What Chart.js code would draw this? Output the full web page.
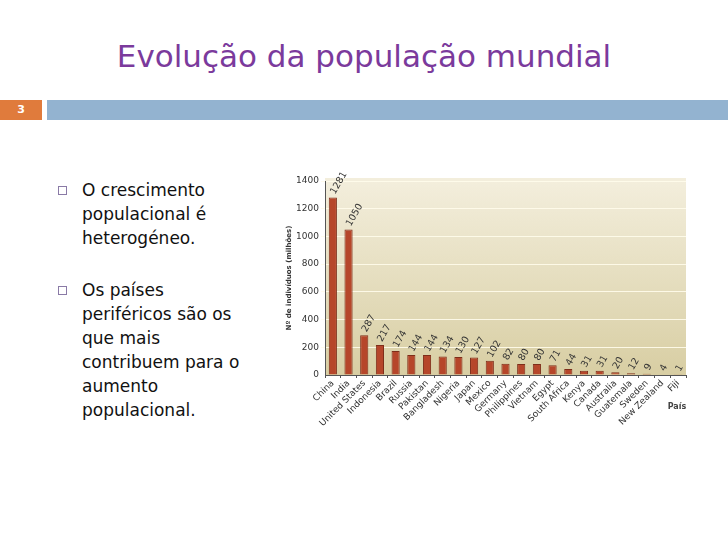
<!DOCTYPE html>
<html>
<head>
<meta charset="utf-8">
<script src="https://cdn.jsdelivr.net/npm/chart.js@4"></script>
<style>
  body { margin: 0; width: 728px; height: 546px; background: #fff; position: relative; overflow: hidden; font-family: "DejaVu Sans", sans-serif; }
  #title { position: absolute; left: 0; width: 728px; top: 38px; text-align: center; color: #7b3a9c; font-size: 31px; }
  #num { position: absolute; left: 0; top: 100px; width: 42px; height: 20px; background: #e07b3c; color: #fff; font-size: 11px; font-weight: bold; line-height: 20px; text-align: center; }
  #bar { position: absolute; left: 47px; top: 100px; right: 0; height: 20px; background: #93b3d0; }
  .bullet { position: absolute; left: 82px; font-size: 17px; line-height: 24px; color: #111; width: 200px; }
  .bullet::before { content: ""; position: absolute; left: -24px; top: 8px; width: 7px; height: 7px; border: 1px solid #8a7aa6; }
  #chartBox { position: absolute; left: 285px; top: 170px; width: 410px; height: 260px; }
</style>
</head>
<body>
<div id="title">Evolução da população mundial</div>
<div id="num">3</div>
<div id="bar"></div>
<div class="bullet" style="top:178px">O crescimento<br>populacional é<br>heterogéneo.</div>
<div class="bullet" style="top:278px">Os países<br>periféricos são os<br>que mais<br>contribuem para o<br>aumento<br>populacional.</div>
<div id="chartBox"><canvas id="popChart"></canvas></div>
<script>
// Data (millions of people)
const countries = ["China", "India", "United States", "Indonesia", "Brazil", "Russia", "Pakistan",
  "Bangladesh", "Nigeria", "Japan", "Mexico", "Germany", "Philippines", "Vietnam", "Egypt",
  "South Africa", "Kenya", "Canada", "Australia", "Guatemala", "Sweden", "New Zealand", "Fiji"]
const population = [1281, 1050, 287, 217, 174, 144, 144, 134, 130, 127, 102, 82, 80, 80, 71,
  44, 31, 31, 20, 12, 9, 4, 1]
const yTicks = [0, 200, 400, 600, 800, 1000, 1200, 1400]

// Beige gradient behind the plot
const plotBackground = {
  id: "plotBackground",
  beforeDraw(chart) {
    const { ctx, chartArea: a } = chart
    const g = ctx.createLinearGradient(0, a.top, 0, a.bottom)
    g.addColorStop(0, "#f3eedc")
    g.addColorStop(1, "#d8cea3")
    ctx.save()
    ctx.fillStyle = g
    ctx.fillRect(a.left, a.top - 3, a.right - a.left, a.bottom - a.top + 3)
    ctx.restore()
  },
}

// Rotated value labels above each bar, plus the "País" caption
const valueLabels = {
  id: "valueLabels",
  afterDatasetsDraw(chart) {
    const { ctx } = chart
    const meta = chart.getDatasetMeta(0)
    ctx.save()
    ctx.font = "9.5px 'DejaVu Sans'"
    ctx.fillStyle = "#333"
    ctx.textBaseline = "middle"
    meta.data.forEach((bar, i) => {
      ctx.save()
      ctx.translate(bar.x, bar.y - 4)
      ctx.rotate(-Math.PI / 3)
      ctx.textAlign = "left"
      ctx.fillText(String(population[i]), 0, 0)
      ctx.restore()
    })
    ctx.font = "bold 8px 'DejaVu Sans'"
    ctx.fillStyle = "#444"
    ctx.textAlign = "center"
    ctx.fillText("País", 392, 237)
    ctx.restore()
  },
}

const ctx = document.getElementById("popChart")
new Chart(ctx, {
  type: "bar",
  data: {
    labels: countries,
    datasets: [
      {
        data: population,
        backgroundColor: "#b6462a",
        borderColor: "#7e2e1a",
        borderWidth: 1,
        barPercentage: 0.52,
        categoryPercentage: 1,
      },
    ],
  },
  options: {
    responsive: true,
    maintainAspectRatio: false,
    animation: false,
    layout: { padding: { top: 11, right: 9, left: 0, bottom: 0 } },
    plugins: {
      legend: { display: false },
      tooltip: { enabled: false },
    },
    scales: {
      x: {
        grid: { display: true, drawOnChartArea: false, offset: true, tickLength: 3, color: "#555" },
        border: { color: "#555" },
        ticks: {
          color: "#333",
          font: { size: 9, family: "DejaVu Sans" },
          maxRotation: 45,
          minRotation: 45,
          autoSkip: false,
          padding: 0,
        },
        afterFit: (axis) => { axis.height = 55 },
      },
      y: {
        min: 0,
        max: 1400,
        title: {
          display: true,
          text: "Nº de indivíduos (milhões)",
          color: "#333",
          font: { size: 7, weight: "bold", family: "DejaVu Sans" },
          padding: 0,
        },
        grid: {
          drawOnChartArea: true,
          tickLength: 4,
          color: (c) => (c.tick && c.tick.value % 200 === 0 && c.tick.value > 0 ? "rgba(255,252,235,0.9)" : "rgba(0,0,0,0)"),
          lineWidth: 1,
        },
        border: { color: "#555" },
        ticks: {
          stepSize: 100,
          color: "#333",
          font: { size: 9, family: "DejaVu Sans" },
          padding: 2,
          callback: (v) => (yTicks.includes(v) ? v : ""),
        },
        afterFit: (axis) => { axis.width = 40 },
      },
    },
  },
  plugins: [plotBackground, valueLabels],
})
</script>
</body>
</html>
